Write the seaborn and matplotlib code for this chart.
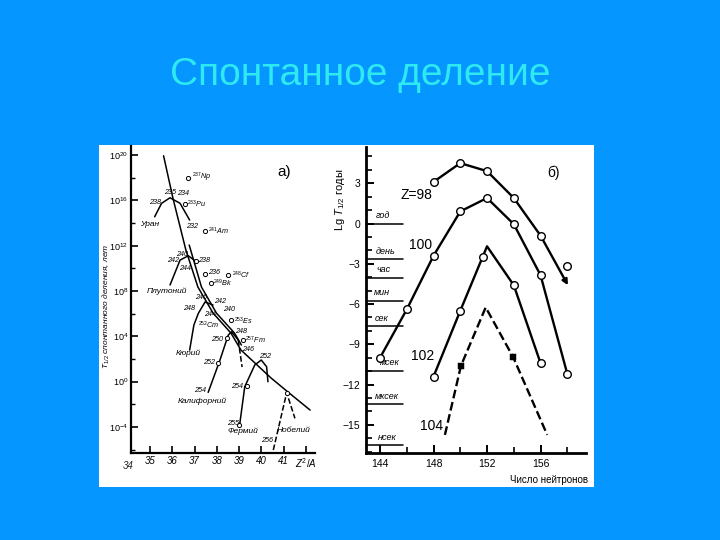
import numpy as np
import matplotlib
matplotlib.use("Agg")
import matplotlib.pyplot as plt
import seaborn as sns
from matplotlib.patches import Rectangle

sns.set_theme(style="white")
plt.rcParams["font.family"] = ["Liberation Sans", "DejaVu Sans"]
plt.rcParams["mathtext.fontset"] = "custom"
plt.rcParams["mathtext.rm"] = "Liberation Sans"
plt.rcParams["mathtext.it"] = "Liberation Sans:italic"

# ---------------- data: panel a) (x = Z^2/A, y = log10 T1/2 in years) ----------------
main_x = [35.61, 36.03, 36.61, 37.15, 37.83, 38.63, 39.08, 39.71, 40.43, 41.19, 42.18]
main_L = [19.94, 16.20, 11.62, 8.35, 6.05, 4.29, 2.79, 1.64, 0.32, -0.92, -2.51]
main2_x = [36.76, 37.31, 37.98, 38.79, 39.10]
main2_L = [12.06, 8.35, 6.05, 4.29, 3.23]
u_x = [35.21, 35.52, 35.90, 36.35, 36.78]
u_L = [14.55, 15.74, 16.23, 15.74, 14.26]
pu_x = [35.90, 36.35, 36.72, 37.02]
pu_L = [8.53, 10.73, 11.11, 10.67]
cm_x = [36.78, 36.97, 37.17, 37.47, 37.83]
cm_L = [2.79, 5.0, 6.03, 7.03, 6.76]
cf_x = [37.61, 38.14, 38.51, 38.66, 38.96]
cf_L = [-0.95, 1.91, 4.11, 4.40, 3.67]
cf_tail_x = [38.96, 39.13]
cf_tail_L = [3.67, 1.29]
fm_x = [39.02, 39.25, 39.70, 39.99, 40.23, 40.29]
fm_L = [-3.83, -0.45, 1.47, 1.91, 1.32, -0.01]
no_x = [40.53, 41.13, 41.50]
no_L = [-6.04, -0.98, -3.24]
circ_x = [36.70, 36.57, 37.47, 37.06, 37.47, 38.51, 37.74, 38.63, 38.44, 38.06, 39.18, 39.34, 39.00, 41.13]
circ_L = [18.0, 15.68, 13.29, 10.64, 9.47, 9.38, 8.68, 5.44, 3.87, 1.67, 3.67, -0.39, -3.83, -0.98]

lab_text = ["238", "235", "234", r"$^{233}$Pu", "232", r"$^{237}$Np", r"$^{241}$Am",
            "240", "242", "244", "238", "236", r"$^{248}$Cf", r"$^{249}$Bk",
            "246", "248", "242", "244", "240", r"$^{253}$Es", r"$^{252}$Cm",
            "250", "252", "254", "248", r"$^{257}$Fm", "246",
            "252", "254", "255", "256"]
lab_x = [35.23, 35.90, 36.47, 36.65, 36.90, 36.87, 37.59,
         36.42, 36.05, 36.57, 37.17, 37.61, 38.66, 37.84,
         37.28, 36.76, 38.14, 37.69, 38.55, 38.76, 37.17,
         38.03, 37.65, 37.26, 39.08, 39.28, 39.40,
         40.16, 38.89, 38.74, 40.23]
lab_L = [15.79, 16.67, 16.62, 15.68, 13.67, 18.0, 13.3,
         11.26, 10.73, 10.0, 10.73, 9.6, 9.4, 8.68,
         7.44, 6.47, 7.05, 5.97, 6.35, 5.30, 5.0,
         3.73, 1.67, -0.74, 4.45, 3.67, 2.85,
         2.26, -0.39, -3.68, -5.24]
lab_ha = ["center", "center", "center", "left", "center", "left", "left",
          "center", "center", "center", "left", "left", "left", "left",
          "center", "center", "center", "center", "center", "left", "left",
          "center", "center", "center", "center", "left", "center",
          "center", "center", "center", "center"]

elem_text = ["Уран", "Плутоний", "Кюрий", "Калифорний", "Фермий", "Нобелий"]
elem_x = [34.99, 35.75, 36.70, 37.33, 39.18, 41.43]
elem_L = [13.9, 7.94, 2.49, -1.77, -4.42, -4.33]

a_yticks = [20, 16, 12, 8, 4, 0, -4]
a_yminor = [18, 14, 10, 6, 2, -2, -6]
a_xticks = [35, 36, 37, 38, 39, 40, 41, 42]
a_xlabels = ["35", "36", "37", "38", "39", "40", "41", r"$Z^2/A$"]

# ---------------- data: panel б) (x = N, y = lg T1/2 in years) ----------------
z98_N = [148, 150, 152, 154, 156]
z98_lg = [3.1, 4.5, 3.9, 1.9, -0.9]
z98_tail_N = [156, 158.05]
z98_tail_lg = [-0.9, -4.6]
z98_extra_N = [158]
z98_extra_lg = [-3.2]
z100_N = [144, 146, 148, 150, 152, 154, 156, 158]
z100_lg = [-10.0, -6.4, -2.4, 0.9, 1.9, -0.05, -3.85, -11.2]
z102_N = [148, 150, 152, 154, 156]
z102_lg = [-11.4, -6.5, -1.7, -4.6, -10.4]
z102_mN = [148, 150, 151.7, 154, 156]
z102_mlg = [-11.4, -6.5, -2.5, -4.6, -10.4]
z104_N = [148.85, 150.05, 151.9, 153.96, 156.5]
z104_lg = [-15.75, -10.6, -6.25, -9.97, -15.75]
z104_sqN = [150.05, 153.96]
z104_sqlg = [-10.6, -9.97]

z_text = ["Z=98", "100", "102", "104"]
z_N = [145.5, 146.2, 146.3, 147.0]
z_lg = [2.1, -1.6, -9.9, -15.1]

unit_names = ["год", "день", "час", "мин", "сек", "мсек", "мксек", "нсек"]
unit_lg = [0, -2.65, -4.04, -5.75, -7.64, -10.97, -13.47, -16.5]
unit_N = [143.7, 143.7, 143.7, 143.5, 143.6, 144.0, 143.6, 143.8]

b_yticks = [3, 0, -3, -6, -9, -12, -15]
b_xticks = [144, 148, 152, 156]

# ---------------- figure ----------------
BG = "#0596FF"
fig = plt.figure(figsize=(7.2, 5.4), dpi=100, facecolor=BG)
fig.add_artist(Rectangle((99 / 720, 1 - 487 / 540), 495 / 720, 342 / 540,
                         transform=fig.transFigure, facecolor="white",
                         edgecolor="none", zorder=-1))
fig.text(0.5, 1 - 75 / 540, "Спонтанное деление", ha="center", va="center",
         fontsize=28, color="#2EEAF0", family=["Liberation Sans", "DejaVu Sans"])

# ---------- panel a ----------
axa = fig.add_axes([131 / 720, 1 - 453 / 540, 184 / 720, 307 / 540])
axa.set_facecolor("none")
K = "black"
for xs, ys, ls in [(main_x, main_L, "-"), (main2_x, main2_L, "-"), (u_x, u_L, "-"),
                   (pu_x, pu_L, "-"), (cm_x, cm_L, "-"), (cf_x, cf_L, "-"),
                   (cf_tail_x, cf_tail_L, "--"), (fm_x, fm_L, "-"), (no_x, no_L, "--")]:
    sns.lineplot(x=xs, y=ys, ax=axa, color=K, lw=1.1, sort=False, estimator=None,
                 linestyle=ls, dashes=False if ls == "-" else (3, 2))
sns.scatterplot(x=circ_x, y=circ_L, ax=axa, marker="o", s=9, color="white",
                edgecolor=K, linewidth=0.7, zorder=4)
for t, x, y, h in zip(lab_text, lab_x, lab_L, lab_ha):
    axa.text(x, y, t, ha=h, va="center", fontsize=5.2, style="italic", color=K, zorder=5)
for t, x, y in zip(elem_text, elem_x, elem_L):
    axa.text(x, y, t, ha="center", va="center", fontsize=6, style="italic", color=K, zorder=5)
axa.text(41.0, 18.5, "а)", ha="center", va="center", fontsize=11, color=K)

axa.set_xlim(34.15, 42.4)
axa.set_ylim(-6.3, 20.8)
axa.set_xticks(a_xticks)
axa.set_xticklabels(a_xlabels, fontsize=7, style="italic")
axa.text(34.0, -7.0, "34", ha="center", va="top", fontsize=7, style="italic",
         clip_on=False)
axa.set_yticks(a_yticks)
axa.set_yticklabels([r"$10^{%d}$" % v for v in a_yticks], fontsize=6.5, style="italic")
axa.set_yticks(a_yminor, minor=True)
axa.tick_params(axis="both", which="major", direction="in", length=5, width=1.2,
                color=K, pad=2, labelcolor=K)
axa.tick_params(axis="y", which="minor", direction="in", length=3, width=1.0, color=K, left=True)
axa.tick_params(axis="x", bottom=True)
axa.tick_params(axis="y", left=True)
for s in ["top", "right"]:
    axa.spines[s].set_visible(False)
for s in ["left", "bottom"]:
    axa.spines[s].set_color(K)
    axa.spines[s].set_linewidth(1.6)
axa.set_xlabel("")
axa.set_ylabel("")
fig.text(106 / 720, 1 - 306 / 540, r"$T_{1/2}$ спонтанного деления, лет",
         rotation=90, ha="center", va="center", fontsize=6, style="italic", color=K)

# ---------- panel b ----------
axb = fig.add_axes([366 / 720, 1 - 453 / 540, 220 / 720, 306 / 540])
axb.set_facecolor("none")
LW = 1.7
sns.lineplot(x=z98_N, y=z98_lg, ax=axb, color=K, lw=LW, sort=False, estimator=None)
axb.annotate("", xy=(z98_tail_N[1], z98_tail_lg[1]), xytext=(z98_tail_N[0], z98_tail_lg[0]),
             arrowprops=dict(arrowstyle="-|>", color=K, lw=LW, mutation_scale=8,
                             shrinkA=0, shrinkB=0))
sns.lineplot(x=z100_N, y=z100_lg, ax=axb, color=K, lw=LW, sort=False, estimator=None)
sns.lineplot(x=z102_N, y=z102_lg, ax=axb, color=K, lw=LW, sort=False, estimator=None)
sns.lineplot(x=z104_N, y=z104_lg, ax=axb, color=K, lw=LW, sort=False, estimator=None,
             linestyle="--", dashes=(4, 2.5))
circN = z98_N + z98_extra_N + z100_N + z102_mN
circlg = z98_lg + z98_extra_lg + z100_lg + z102_mlg
sns.scatterplot(x=circN, y=circlg, ax=axb, marker="o", s=30, color="white",
                edgecolor=K, linewidth=1.0, zorder=4)
sns.scatterplot(x=z104_sqN, y=z104_sqlg, ax=axb, marker="s", s=18, color=K,
                edgecolor=K, zorder=4)
for t, x, y in zip(z_text, z_N, z_lg):
    axb.text(x, y, t, ha="left", va="center", fontsize=10, color=K)
for t, y, x in zip(unit_names, unit_lg, unit_N):
    axb.plot([142.95, 145.7], [y, y], color=K, lw=1.1, clip_on=False)
    axb.text(x, y + 0.25, t, ha="left", va="bottom", fontsize=6.5, style="italic", color=K)
axb.text(157.0, 3.8, "б)", ha="center", va="center", fontsize=10, color=K)

axb.set_xlim(142.95, 159.4)
axb.set_ylim(-17.1, 5.7)
axb.set_xticks(b_xticks)
axb.set_xticklabels([str(v) for v in b_xticks], fontsize=7.5)
axb.set_xticks([146, 150, 154, 158], minor=True)
axb.set_yticks(b_yticks)
axb.set_yticklabels([str(v).replace("-", "\u2212") for v in b_yticks], fontsize=7.5)
axb.set_yticks(np.arange(-17, 6, 1), minor=True)
axb.tick_params(axis="both", which="major", direction="in", length=6, width=1.4,
                color=K, pad=4, labelcolor=K, bottom=True, left=True)
axb.tick_params(axis="both", which="minor", direction="in", length=4, width=1.2,
                color=K, bottom=True, left=True)
for s in ["top", "right"]:
    axb.spines[s].set_visible(False)
for s in ["left", "bottom"]:
    axb.spines[s].set_color(K)
    axb.spines[s].set_linewidth(2.0)
axb.set_xlabel("")
axb.set_ylabel("")
fig.text(340 / 720, 1 - 200 / 540, r"Lg $T_{1/2}$ годы", rotation=90, ha="center",
         va="center", fontsize=8, color=K)
fig.text(588 / 720, 1 - 480 / 540, "Число нейтронов", ha="right", va="center",
         fontsize=7, color=K)

fig.savefig("out.png", dpi=100, facecolor=BG)
